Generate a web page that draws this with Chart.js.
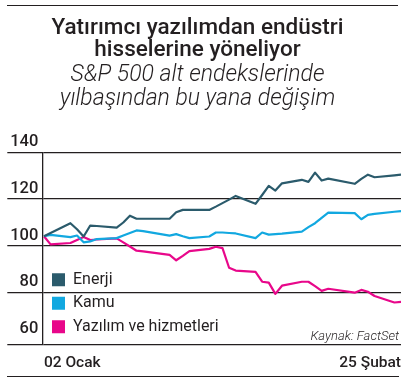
<!DOCTYPE html>
<html><head><meta charset="utf-8">
<script src="https://cdn.jsdelivr.net/npm/chart.js@4.4.1/dist/chart.umd.min.js"></script>
<style>
html,body{margin:0;padding:0;background:#fff;}
#wrap{position:relative;width:411px;height:383px;overflow:hidden;font-family:Roboto,sans-serif;color:#231f20;}
#c{position:absolute;left:0;top:0;}
.rule{position:absolute;height:0;border-top:1.5px solid #231f20;}
#head{position:absolute;left:0;top:15px;width:395px;text-align:center;}
#head .t{font-weight:500;font-size:22.5px;line-height:22px;}
#head .s{font-style:italic;font-weight:300;font-size:23px;line-height:24px;margin-top:3px;}
</style></head><body>
<div id="wrap">
<canvas id="c" width="411" height="383"></canvas>
<div class="rule" style="left:7px;top:5px;width:391px"></div>
<div id="head"><div class="t">Yatırımcı yazılımdan endüstri<br>hisselerine yöneliyor</div><div class="s">S&amp;P 500 alt endekslerinde<br>yılbaşından bu yana değişim</div></div>
<div class="rule" style="left:7px;top:376px;width:392px"></div>
</div>
<script>
// Days since 2 January (trading days only)
const dayOffsets = [0,1,4,5,6,7,8,11,12,13,14,15,19,20,21,22,25,26,27,28,29,32,33,34,35,36,39,40,41,42,43,47,48,49,50,53,54];
const xTickDays = [0,54];
const xTickLabels = ['02 Ocak','25 Şubat'];
const yTicks = [60,80,100,120,140];
const seriesNames = ['Enerji','Kamu','Yazılım ve hizmetleri'];
const seriesColors = ['#2b5b6c','#12a8e0','#e8078a'];
const enerji = [104.0,105.4,109.6,107.0,103.9,108.6,108.4,107.7,109.9,112.8,111.5,111.5,111.5,114.3,115.3,115.3,115.3,116.7,118.2,119.7,121.3,117.9,121.7,125.6,123.6,126.7,128.2,127.3,131.3,127.9,128.7,126.5,128.6,130.4,129.3,130.1,130.4];
const kamu = [104.0,104.6,103.6,104.3,101.4,101.8,102.8,103.2,104.3,105.4,106.5,106.2,104.3,104.9,104.0,103.2,103.9,105.6,105.6,105.4,105.2,103.2,105.6,104.7,104.9,105.1,106.0,107.9,109.6,111.9,114.1,113.9,111.3,113.2,113.6,114.5,114.8];
const yazilim = [104.0,100.5,101.1,102.4,103.7,102.4,102.6,103.1,101.4,99.6,97.8,97.5,96.0,93.7,95.6,97.6,98.6,99.5,98.9,90.5,89.3,88.7,84.5,84.1,79.3,82.8,84.5,84.5,82.6,80.6,81.5,79.8,81.0,80.2,78.4,75.6,75.9];
const sourceNote = 'Kaynak: FactSet';

const seriesValues = [enerji, kamu, yazilim];
const INK = '#231f20';

const customPlugin = {
  id: 'custom',
  afterLayout(chart) {
    const lg = chart.legend, ca = chart.chartArea;
    lg.left = ca.left + 2.2; lg.right = lg.left + 220;
    lg.top = ca.bottom - 80.4; lg.bottom = ca.bottom + 20;
  },
  afterDraw(chart) {
    const ctx = chart.ctx, ca = chart.chartArea;
    ctx.save();
    ctx.font = 'italic 300 13px Roboto';
    ctx.fillStyle = INK; ctx.textAlign = 'right'; ctx.textBaseline = 'middle';
    ctx.fillText(sourceNote, 399, ca.bottom - 8);
    ctx.restore();
  }
};

new Chart(document.getElementById('c'), {
  type: 'line',
  data: {
    datasets: seriesNames.map((name, k) => ({
      label: name,
      data: dayOffsets.map((d, i) => ({x: d, y: seriesValues[k][i]})),
      borderColor: seriesColors[k],
      backgroundColor: seriesColors[k],
      borderWidth: 2.2,
      pointRadius: 0,
      tension: 0,
      borderJoinStyle: 'round',
      fill: false
    }))
  },
  options: {
    responsive: false,
    animation: false,
    devicePixelRatio: 1,
    layout: {padding: {left: 7, right: 10, top: 152.3, bottom: 0}},
    plugins: {
      title: {display: false},
      tooltip: {enabled: false},
      legend: {
        display: true,
        position: 'chartArea',
        align: 'start',
        labels: {
          boxWidth: 13, boxHeight: 13, padding: 7.5,
          color: INK,
          font: {family: 'Roboto', size: 16, weight: '400'},
          generateLabels: (chart) => chart.data.datasets.map((ds, i) => ({
            text: ds.label, fillStyle: ds.borderColor, strokeStyle: ds.borderColor,
            lineWidth: 0, hidden: false, datasetIndex: i, fontColor: INK
          }))
        }
      }
    },
    scales: {
      x: {
        type: 'linear', min: -0.25, max: 54,
        afterBuildTicks: s => { s.ticks = xTickDays.map(v => ({value: v})); },
        afterFit: s => { s.height = 38.3; },
        grid: {display: false, drawTicks: false},
        border: {display: false},
        ticks: {
          autoSkip: false, align: 'inner', maxRotation: 0, padding: 9,
          color: INK, font: {family: 'Roboto', size: 15.5, weight: '500'},
          callback: v => xTickLabels[xTickDays.indexOf(v)]
        }
      },
      y: {
        min: 57.5, max: 140,
        afterBuildTicks: s => { s.ticks = [{value: 57.5}].concat(yTicks.map(v => ({value: v}))); },
        afterFit: s => { s.width = 35.3; },
        grid: {
          color: c => (c.tick && c.tick.value === 60) ? 'rgba(0,0,0,0)' : INK,
          lineWidth: 1.3, tickLength: 35, drawTicks: true
        },
        border: {display: true, color: INK, width: 1.3},
        ticks: {
          autoSkip: false, padding: -31, labelOffset: -10,
          color: INK, font: {family: 'Roboto', size: 16.5, weight: '500'},
          callback: v => yTicks.includes(v) ? String(v) : ''
        }
      }
    }
  },
  plugins: [customPlugin]
});
</script>
</body></html>
